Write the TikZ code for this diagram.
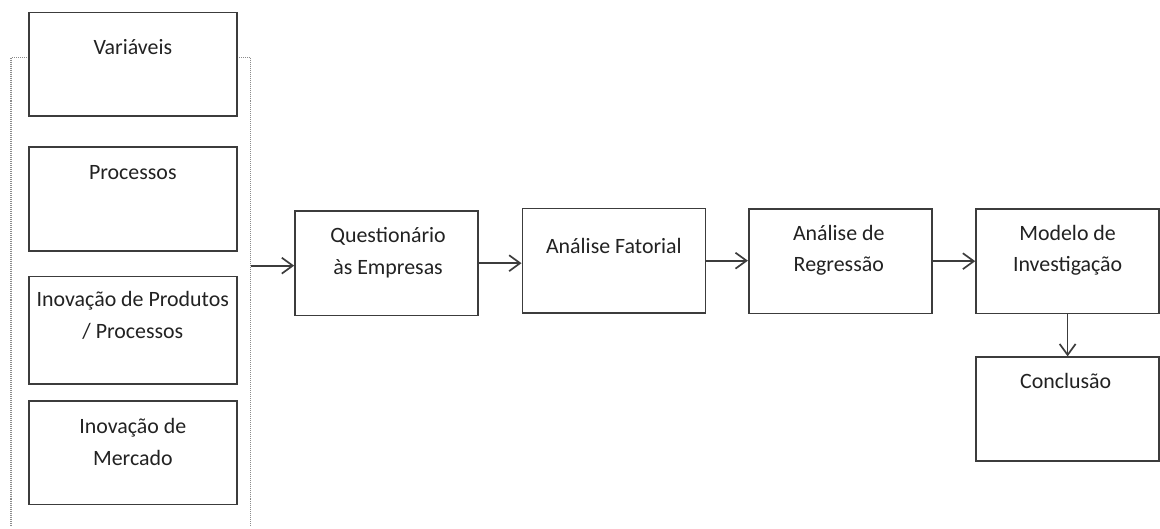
\documentclass[tikz,border=0pt]{standalone}
\usepackage{fontspec}
\setmainfont{Carlito}
\usetikzlibrary{arrows.meta}
\definecolor{boxgray}{HTML}{3C3C3C}
\definecolor{dotgray}{HTML}{8C8C8C}
\definecolor{txtgray}{HTML}{222222}

\begin{document}
\begin{tikzpicture}[x=1pt, y=-1pt,
    sidebox/.style={draw=boxgray, line width=1.7pt, inner sep=0pt, minimum width=209pt, minimum height=104pt},
    flowbox/.style={draw=boxgray, line width=1.7pt, inner sep=0pt, minimum width=184pt, minimum height=105pt},
    lbl/.style={text=txtgray, align=center, inner sep=0pt, font=\fontsize{22}{32}\selectfont},
    brk/.style={draw=dotgray, line width=1.4pt, dash pattern=on 1pt off 1pt},
    arr/.style={draw=boxgray, line width=1.7pt, -{Straight Barb[length=11pt, width=16pt, line width=1.7pt]}}]
\path[fill=white] (0,0) rectangle (1160,524);
% left group
\coordinate (brkL) at (11,58);
\coordinate (brkR) at (252,58);
\draw[brk] (29,58) -- (brkL) -- (11,530);
\draw[brk] (238,58) -- (brkR) -- (252,530);
\node[sidebox] (var) at (133.5,64.5) {};
\node[sidebox] (proc) at (133.5,200) {};
\node[sidebox, minimum height=108pt] (inovp) at (133.5,332) {};
\node[sidebox] (inovm) at (133.5,455) {};
\node[lbl] (varT) at (133.5,47) {Variáveis};
\node[lbl] (procT) at (133.5,173) {Processos};
\node[lbl] (inovpT) at (133.5,317) {Inovação de Produtos\\/ Processos};
\node[lbl] (inovmT) at (133.5,444) {Inovação de\\Mercado};
% main flow
\node[flowbox] (quest) at (388.5,264.5) {};
\node[flowbox] (fator) at (617,262) {};
\node[flowbox] (regr) at (844.5,262.5) {};
\node[flowbox] (modelo) at (1073,262.5) {};
\node[flowbox, minimum height=104pt] (concl) at (1073,411) {};
\node[lbl] (questT) at (390,254) {Questionário\\às Empresas};
\node[lbl] (fatorT) at (617,247) {Análise Fatorial};
\node[lbl] (regrT) at (843,251.5) {Análise de\\Regressão};
\node[lbl] (modeloT) at (1073,251.5) {Modelo de\\Investigação};
\node[lbl] (conclT) at (1071,383) {Conclusão};
% arrows
\coordinate (brkOut) at (252,267);
\draw[arr] (brkOut) -- (brkOut -| quest.west);
\draw[arr] (quest.east) -- (quest.east -| fator.west);
\draw[arr] (fator.east) -- (fator.east -| regr.west);
\draw[arr] (regr.east) -- (regr.east -| modelo.west);
\draw[arr] (modelo.south) -- (concl.north);
\end{tikzpicture}
\end{document}
